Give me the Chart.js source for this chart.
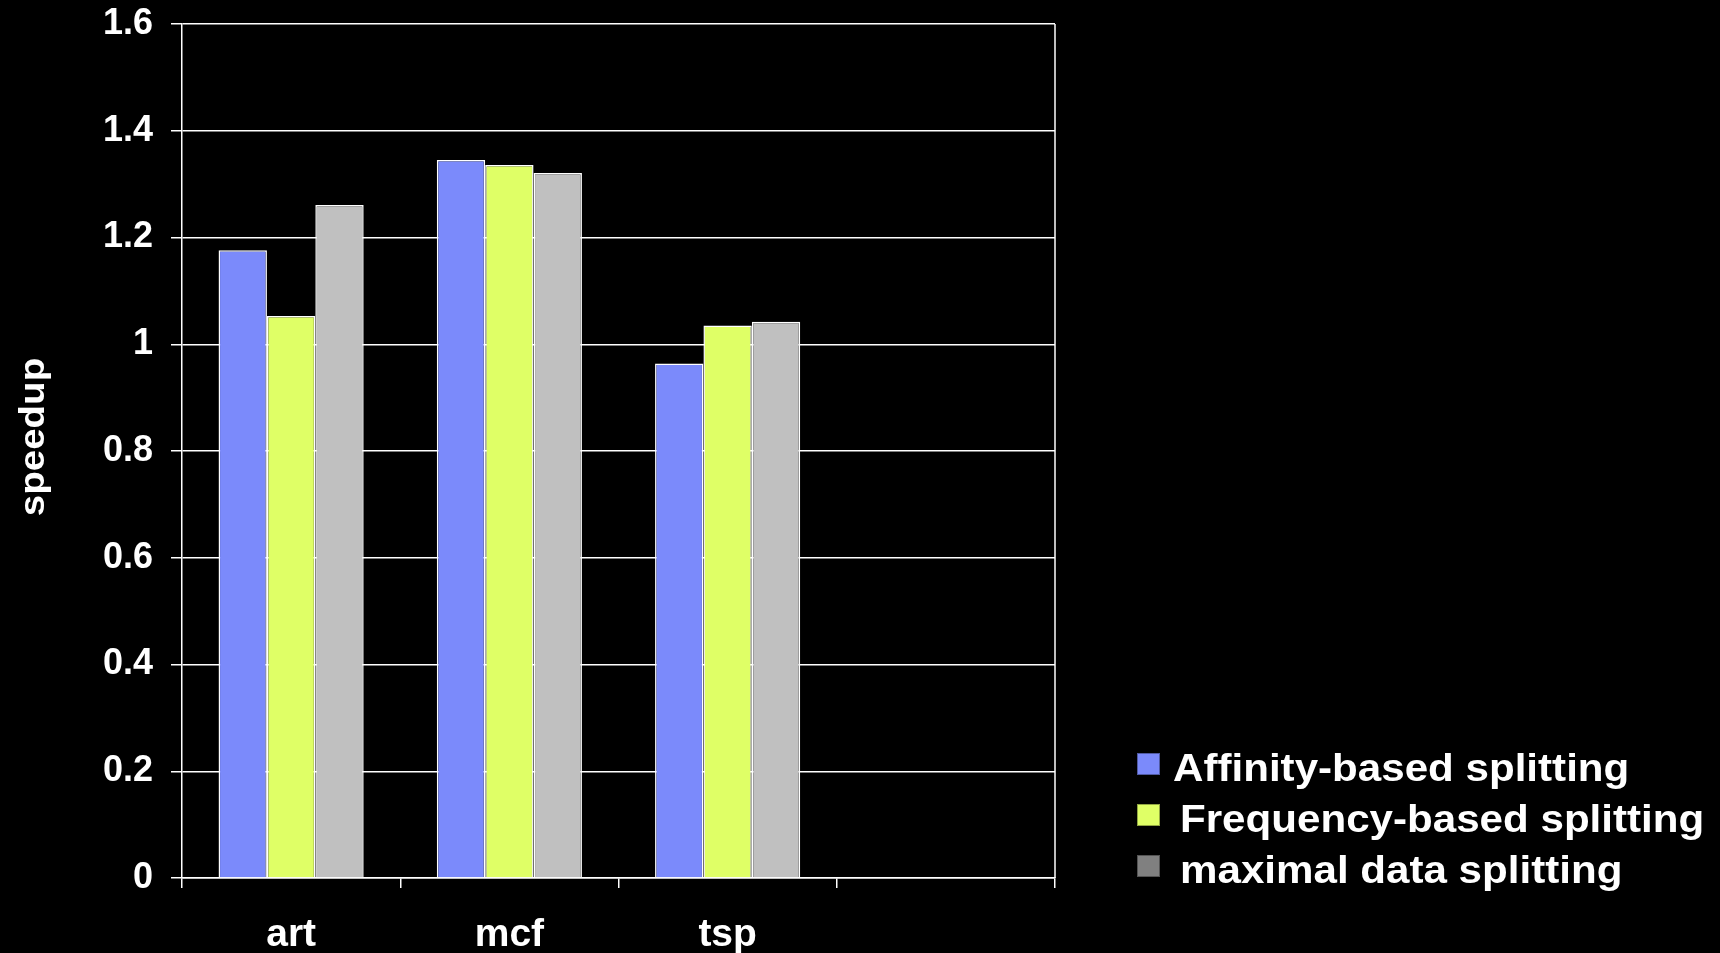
<!DOCTYPE html>
<html>
<head>
<meta charset="utf-8">
<title>speedup</title>
<script src="https://cdn.jsdelivr.net/npm/chart.js@4.4.1/dist/chart.umd.min.js"></script>
<style>
  html, body { margin: 0; padding: 0; background: #000; }
  #wrap { width: 1720px; height: 953px; position: relative; }
</style>
</head>
<body>
<div id="wrap"><canvas id="c" width="1720" height="953"></canvas></div>
<script>
// ---------- data ----------
const categories = ["art", "mcf", "tsp", ""];
const seriesNames = ["Affinity-based splitting", "Frequency-based splitting", "maximal data splitting"];
const affinity = [1.176, 1.345, 0.964, null];
const frequency = [1.053, 1.336, 1.035, null];
const maximal = [1.261, 1.321, 1.042, null];
const yTicks = [0, 0.2, 0.4, 0.6, 0.8, 1, 1.2, 1.4, 1.6];
const yTitle = "speedup";

// ---------- style ----------
const barColors = ["#7b8afb", "#dfff66", "#c0c0c0"];
const swatchColors = ["#7b8afb", "#dfff66", "#808080"];
const FONT = "'Liberation Sans', Arial, sans-serif";

// right frame line, y title and legend, drawn after the chart
const extras = {
  id: "extras",
  afterDraw(chart) {
    const ctx = chart.ctx;
    const a = chart.chartArea;
    ctx.save();
    ctx.strokeStyle = "#ffffff";
    ctx.lineWidth = 1.5;
    ctx.beginPath();
    ctx.moveTo(a.right, a.top);
    ctx.lineTo(a.right, a.bottom);
    ctx.stroke();

    // axis title, rotated
    ctx.save();
    ctx.translate(34, 437);
    ctx.rotate(-Math.PI / 2);
    ctx.scale(1.1, 1);
    ctx.font = "bold 35px " + FONT;
    ctx.fillStyle = "#ffffff";
    ctx.textAlign = "center";
    ctx.textBaseline = "middle";
    ctx.fillText(yTitle, 0, 0);
    ctx.restore();

    // legend
    ctx.font = "bold 39px " + FONT;
    ctx.textBaseline = "alphabetic";
    chart.data.datasets.forEach((ds, i) => {
      const base = 781 + i * 51;
      ctx.fillStyle = swatchColors[i];
      ctx.fillRect(1137, base - 28, 23, 22);
      ctx.strokeStyle = "rgba(0,0,0,0.35)";
      ctx.lineWidth = 1;
      ctx.strokeRect(1137.5, base - 27.5, 22, 21);
      ctx.fillStyle = "#ffffff";
      ctx.save();
      ctx.translate(i === 0 ? 1173 : 1180, base);
      ctx.scale(1.08, 1);
      ctx.fillText(ds.label, 0, 0);
      ctx.restore();
    });
    ctx.restore();
  },
};

const mk = (label, data, color) => ({
  label,
  data,
  backgroundColor: color,
  borderColor: "#ffffff",
  borderWidth: 1.5,
  categoryPercentage: 0.665,
  barPercentage: 1.0,
});

new Chart(document.getElementById("c"), {
  type: "bar",
  data: {
    labels: categories,
    datasets: [
      mk(seriesNames[0], affinity, barColors[0]),
      mk(seriesNames[1], frequency, barColors[1]),
      mk(seriesNames[2], maximal, barColors[2]),
    ],
  },
  options: {
    responsive: false,
    animation: false,
    layout: { padding: { top: 24, right: 665, left: 0, bottom: 0 } },
    plugins: {
      legend: { display: false },
      tooltip: { enabled: false },
    },
    scales: {
      x: {
        grid: {
          offset: true,
          drawOnChartArea: false,
          drawTicks: true,
          tickLength: 10,
          color: "#ffffff",
          lineWidth: 1.5,
        },
        border: { color: "#ffffff", width: 1.5 },
        ticks: {
          color: "#ffffff",
          font: { family: FONT, size: 39, weight: "bold" },
          padding: 24,
          maxRotation: 0,
        },
        afterFit(scale) {
          scale.height = 953 - 878;
          scale.paddingLeft = 0;
          scale.paddingRight = 0;
        },
      },
      y: {
        min: 0,
        max: 1.6,
        afterBuildTicks(scale) { scale.ticks = yTicks.map((v) => ({ value: v })); },
        grid: {
          color: "#ffffff",
          lineWidth: 1.5,
          tickLength: 11,
        },
        border: { color: "#ffffff", width: 1.5 },
        ticks: {
          color: "#ffffff",
          font: { family: FONT, size: 36, weight: "bold" },
          padding: 18,
          callback: (v) => String(+v.toFixed(1)),
        },
        afterFit(scale) {
          scale.width = 182;
          scale.paddingTop = 0;
          scale.paddingBottom = 0;
        },
      },
    },
  },
  plugins: [extras],
});
</script>
</body>
</html>
